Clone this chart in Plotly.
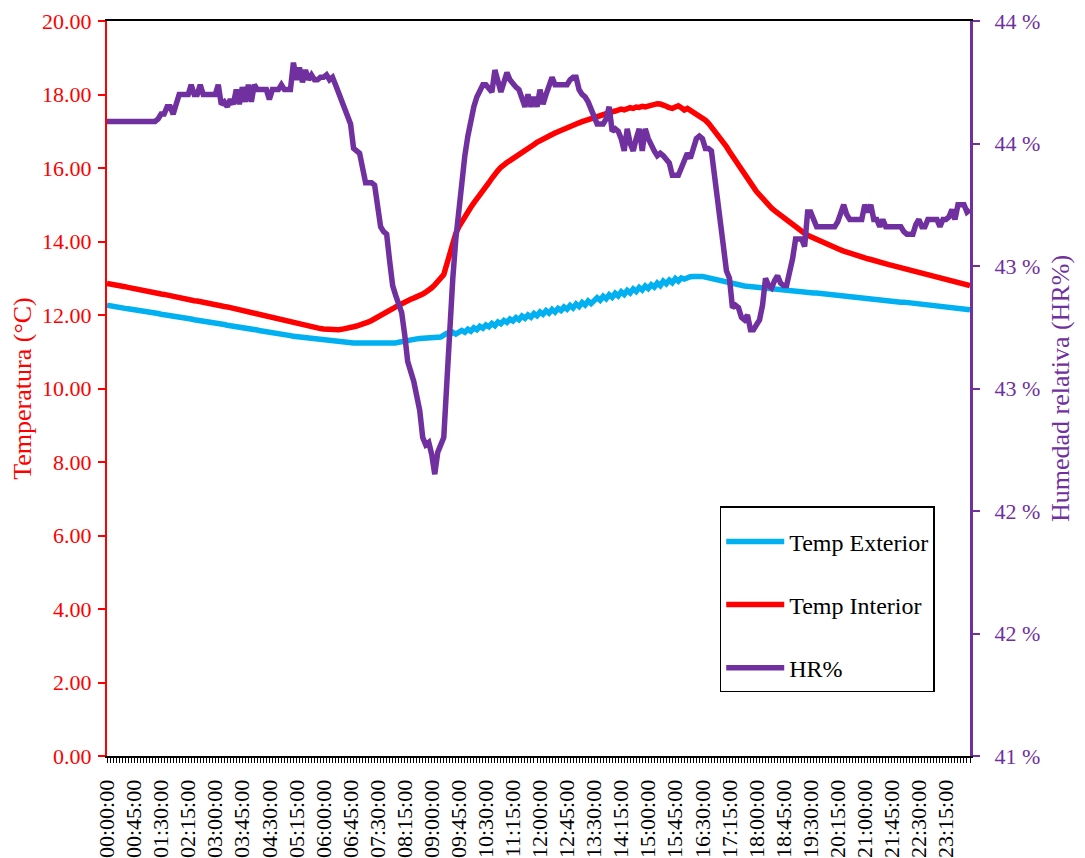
import plotly.graph_objects as go

# horas cada 5 minutos
horas = ["%02d:%02d:00" % (m // 60, m % 60) for m in range(0, 24 * 60, 5)]

temp_exterior = [
    12.27, 12.25, 12.24, 12.22, 12.21, 12.20, 12.18, 12.17, 12.16, 12.14, 12.13, 12.12,
    12.10, 12.09, 12.08, 12.06, 12.05, 12.04, 12.02, 12.01, 12.00, 11.98, 11.97, 11.95,
    11.94, 11.93, 11.91, 11.90, 11.89, 11.87, 11.86, 11.85, 11.83, 11.82, 11.80, 11.79,
    11.78, 11.76, 11.75, 11.74, 11.72, 11.71, 11.70, 11.68, 11.67, 11.66, 11.64, 11.63,
    11.62, 11.60, 11.59, 11.57, 11.56, 11.55, 11.53, 11.52, 11.50, 11.49, 11.48, 11.46,
    11.45, 11.44, 11.42, 11.41, 11.40, 11.38, 11.37, 11.36, 11.35, 11.34, 11.33, 11.32,
    11.31, 11.30, 11.29, 11.28, 11.27, 11.27, 11.26, 11.26, 11.25, 11.25, 11.24, 11.24,
    11.24, 11.23, 11.23, 11.23, 11.22, 11.22, 11.22, 11.22, 11.22, 11.23, 11.22, 11.23,
    11.24, 11.26, 11.28, 11.29, 11.31, 11.32, 11.33, 11.35, 11.36, 11.37, 11.37, 11.38,
    11.39, 11.40, 11.41, 11.40, 11.45, 11.50, 11.46, 11.53, 11.48, 11.55, 11.58, 11.53,
    11.61, 11.56, 11.65, 11.60, 11.69, 11.64, 11.73, 11.68, 11.77, 11.71, 11.81, 11.76,
    11.85, 11.80, 11.89, 11.84, 11.93, 11.87, 11.97, 11.91, 12.00, 11.94, 12.04, 11.98,
    12.08, 12.02, 12.12, 12.05, 12.15, 12.08, 12.18, 12.12, 12.22, 12.16, 12.26, 12.19,
    12.30, 12.23, 12.34, 12.27, 12.38, 12.31, 12.42, 12.47, 12.40, 12.51, 12.44, 12.55,
    12.48, 12.59, 12.52, 12.63, 12.56, 12.67, 12.60, 12.71, 12.64, 12.75, 12.68, 12.79,
    12.72, 12.82, 12.76, 12.87, 12.80, 12.92, 12.85, 12.95, 12.88, 12.99, 12.92, 13.01,
    12.98, 13.03, 13.04, 13.05, 13.06, 13.06, 13.05, 13.03, 13.01, 12.99, 12.97, 12.94,
    12.92, 12.90, 12.88, 12.86, 12.84, 12.83, 12.81, 12.80, 12.79, 12.78, 12.77, 12.76,
    12.75, 12.74, 12.73, 12.72, 12.72, 12.71, 12.70, 12.69, 12.68, 12.68, 12.67, 12.66,
    12.65, 12.65, 12.64, 12.63, 12.62, 12.62, 12.61, 12.60, 12.60, 12.59, 12.58, 12.57,
    12.56, 12.56, 12.55, 12.54, 12.53, 12.51, 12.50, 12.49, 12.48, 12.47, 12.46, 12.45,
    12.45, 12.44, 12.43, 12.42, 12.41, 12.40, 12.39, 12.38, 12.38, 12.37, 12.36, 12.35,
    12.35, 12.35, 12.34, 12.34, 12.33, 12.33, 12.32, 12.31, 12.30, 12.29, 12.28, 12.27,
    12.26, 12.25, 12.24, 12.23, 12.22, 12.21, 12.20, 12.19, 12.18, 12.17, 12.16, 12.14,
]

temp_interior = [
    12.86, 12.85, 12.83, 12.81, 12.80, 12.78, 12.77, 12.75, 12.73, 12.72, 12.70, 12.69,
    12.67, 12.66, 12.64, 12.62, 12.60, 12.59, 12.57, 12.56, 12.54, 12.52, 12.51, 12.49,
    12.47, 12.46, 12.44, 12.43, 12.41, 12.39, 12.38, 12.36, 12.35, 12.33, 12.31, 12.30,
    12.28, 12.27, 12.25, 12.23, 12.22, 12.20, 12.18, 12.16, 12.14, 12.12, 12.10, 12.08,
    12.06, 12.04, 12.02, 12.00, 11.98, 11.96, 11.94, 11.92, 11.90, 11.88, 11.86, 11.84,
    11.82, 11.80, 11.78, 11.76, 11.74, 11.72, 11.70, 11.69, 11.67, 11.66, 11.64, 11.63,
    11.62, 11.61, 11.60, 11.59, 11.59, 11.60, 11.61, 11.62, 11.64, 11.66, 11.68, 11.70,
    11.72, 11.75, 11.77, 11.81, 11.85, 11.89, 11.93, 11.98, 12.02, 12.07, 12.12, 12.17,
    12.22, 12.27, 12.31, 12.35, 12.39, 12.43, 12.46, 12.49, 12.53, 12.57, 12.62, 12.67,
    12.74, 12.82, 12.90, 12.98, 13.10, 13.38, 13.68, 13.97, 14.22, 14.40, 14.55, 14.68,
    14.80, 14.93, 15.05, 15.15, 15.28, 15.40, 15.50, 15.60, 15.72, 15.85, 15.93, 16.02,
    16.10, 16.15, 16.20, 16.25, 16.30, 16.36, 16.42, 16.48, 16.53, 16.58, 16.64, 16.70,
    16.75, 16.79, 16.83, 16.87, 16.91, 16.95, 16.99, 17.02, 17.05, 17.09, 17.12, 17.16,
    17.19, 17.23, 17.26, 17.29, 17.32, 17.35, 17.38, 17.42, 17.44, 17.46, 17.48, 17.50,
    17.53, 17.55, 17.58, 17.60, 17.58, 17.62, 17.64, 17.62, 17.66, 17.65, 17.68, 17.66,
    17.69, 17.71, 17.73, 17.75, 17.74, 17.72, 17.68, 17.64, 17.62, 17.66, 17.69, 17.64,
    17.58, 17.62, 17.57, 17.52, 17.48, 17.42, 17.36, 17.30, 17.22, 17.12, 17.02, 16.92,
    16.81, 16.70, 16.58, 16.45, 16.32, 16.20, 16.08, 15.96, 15.84, 15.72, 15.60, 15.48,
    15.36, 15.26, 15.16, 15.07, 14.99, 14.91, 14.84, 14.77, 14.70, 14.64, 14.58, 14.53,
    14.47, 14.40, 14.34, 14.28, 14.22, 14.17, 14.13, 14.09, 14.05, 14.01, 13.97, 13.93,
    13.90, 13.87, 13.84, 13.80, 13.77, 13.74, 13.71, 13.68, 13.66, 13.63, 13.61, 13.58,
    13.56, 13.53, 13.51, 13.48, 13.46, 13.44, 13.41, 13.39, 13.37, 13.35, 13.33, 13.31,
    13.28, 13.26, 13.24, 13.21, 13.19, 13.17, 13.15, 13.13, 13.11, 13.09, 13.07, 13.05,
    13.03, 13.01, 12.99, 12.96, 12.94, 12.92, 12.90, 12.88, 12.86, 12.84, 12.82, 12.80,
]

hr = [
    43.59, 43.59, 43.59, 43.59, 43.59, 43.59, 43.59, 43.59, 43.59, 43.59, 43.59, 43.59,
    43.59, 43.59, 43.59, 43.59, 43.59, 43.60, 43.62, 43.62, 43.65, 43.65, 43.62, 43.66,
    43.70, 43.70, 43.70, 43.70, 43.74, 43.70, 43.70, 43.74, 43.70, 43.70, 43.70, 43.70,
    43.70, 43.74, 43.66, 43.67, 43.65, 43.68, 43.66, 43.72, 43.66, 43.73, 43.67, 43.74,
    43.67, 43.74, 43.72, 43.72, 43.72, 43.72, 43.68, 43.72, 43.72, 43.72, 43.74, 43.72,
    43.72, 43.72, 43.83, 43.76, 43.81, 43.75, 43.80, 43.76, 43.78, 43.76, 43.76, 43.77,
    43.77, 43.78, 43.76, 43.77, 43.74, 43.71, 43.67, 43.64, 43.61, 43.58, 43.48, 43.47,
    43.46, 43.40, 43.34, 43.34, 43.34, 43.33, 43.26, 43.16, 43.14, 43.13, 43.02, 42.92,
    42.88, 42.84, 42.81, 42.72, 42.61, 42.57, 42.53, 42.47, 42.41, 42.30, 42.27, 42.28,
    42.23, 42.15, 42.24, 42.27, 42.30, 42.52, 42.78, 42.95, 43.11, 43.24, 43.35, 43.45,
    43.53, 43.60, 43.65, 43.69, 43.72, 43.74, 43.74, 43.72, 43.71, 43.80, 43.75, 43.71,
    43.75, 43.79, 43.76, 43.74, 43.73, 43.72, 43.68, 43.65, 43.70, 43.65, 43.69, 43.65,
    43.72, 43.66, 43.70, 43.74, 43.77, 43.74, 43.74, 43.74, 43.74, 43.74, 43.76, 43.77,
    43.77, 43.72, 43.70, 43.69, 43.67, 43.64, 43.61, 43.58, 43.58, 43.58, 43.60, 43.65,
    43.55, 43.56, 43.55, 43.52, 43.47, 43.56, 43.50, 43.47, 43.52, 43.56, 43.47, 43.56,
    43.52, 43.49, 43.47, 43.45, 43.46, 43.45, 43.43, 43.42, 43.37, 43.37, 43.37, 43.40,
    43.43, 43.46, 43.44, 43.49, 43.52, 43.53, 43.52, 43.48, 43.48, 43.47, 43.36, 43.25,
    43.17, 43.08, 42.98, 42.95, 42.83, 42.84, 42.83, 42.79, 42.78, 42.80, 42.74, 42.74,
    42.76, 42.78, 42.84, 42.95, 42.92, 42.91, 42.94, 42.96, 42.93, 42.92, 42.92, 42.97,
    43.03, 43.11, 43.11, 43.11, 43.08, 43.22, 43.22, 43.19, 43.16, 43.16, 43.16, 43.16,
    43.16, 43.16, 43.16, 43.18, 43.21, 43.25, 43.21, 43.19, 43.19, 43.19, 43.19, 43.19,
    43.25, 43.22, 43.25, 43.19, 43.19, 43.16, 43.19, 43.16, 43.16, 43.16, 43.16, 43.16,
    43.16, 43.14, 43.13, 43.13, 43.13, 43.17, 43.19, 43.16, 43.16, 43.19, 43.19, 43.19,
    43.19, 43.16, 43.19, 43.19, 43.20, 43.23, 43.19, 43.25, 43.25, 43.25, 43.22, 43.23,
]

# eje derecho: Excel redondea las etiquetas a 0 decimales
hr_ticks = [41, 41.5, 42, 42.5, 43, 43.5, 44]
hr_ticktext = ["41 %", "42 %", "42 %", "43 %", "43 %", "44 %", "44 %"]

x_ticktext = [h if i % 9 == 0 else "" for i, h in enumerate(horas)]

fuente = "Liberation Serif, Times New Roman, serif"
rojo = "#FF0000"
azul = "#00B0F0"
morado = "#7030A0"

fig = go.Figure()

fig.add_trace(go.Scatter(x=horas, y=temp_exterior, mode="lines", name="Temp Exterior",
                         legendgroup="a", line=dict(color=azul, width=5.5)))
fig.add_trace(go.Scatter(x=horas, y=temp_interior, mode="lines", name="Temp Interior",
                         legendgroup="b", line=dict(color=rojo, width=5.5)))
fig.add_trace(go.Scatter(x=horas, y=hr, mode="lines", name="HR%", yaxis="y2",
                         legendgroup="c", line=dict(color=morado, width=5.5)))

# la página tiene 8 px de margen, por eso 1077x850
fig.update_layout(
    width=1077,
    height=850,
    paper_bgcolor="white",
    plot_bgcolor="white",
    font=dict(family=fuente, size=21, color="black"),
    margin=dict(l=99, r=115, t=13, b=102, autoexpand=False),
    showlegend=True,
    legend=dict(
        x=0.71, y=0.34, xanchor="left", yanchor="top",
        bgcolor="white", bordercolor="black", borderwidth=1.5,
        font=dict(family=fuente, size=24, color="black"),
        title=dict(text=" ", font=dict(size=9)),
        tracegroupgap=29,
        itemwidth=58,
    ),
    xaxis=dict(
        type="category",
        range=[0, len(horas) - 1],
        tickmode="array",
        tickvals=horas,
        ticktext=x_ticktext,
        tickangle=-90,
        ticks="outside",
        ticklen=5,
        tickcolor="black",
        showline=True,
        linecolor="black",
        linewidth=2,
        mirror=True,
        showgrid=False,
        ticklabelstandoff=8,
        tickfont=dict(family=fuente, size=22, color="black"),
    ),
    yaxis=dict(
        title=dict(text="Temperatura (°C)", font=dict(family=fuente, size=26, color=rojo), standoff=8),
        range=[0, 20],
        dtick=2,
        tickformat=".2f",
        ticks="outside",
        ticklen=7,
        tickcolor=rojo,
        tickwidth=2,
        showline=True,
        linecolor=rojo,
        linewidth=2,
        showgrid=False,
        zeroline=False,
        ticklabelstandoff=2,
        ticklabeloverflow="allow",
        tickfont=dict(family=fuente, size=22, color=rojo),
    ),
    yaxis2=dict(
        title=dict(text="Humedad relativa (HR%)", font=dict(family=fuente, size=26, color=morado), standoff=12),
        overlaying="y",
        side="right",
        range=[41, 44],
        tickmode="array",
        tickvals=hr_ticks,
        ticktext=hr_ticktext,
        ticks="outside",
        ticklen=7,
        tickcolor=morado,
        tickwidth=2,
        showline=True,
        linecolor=morado,
        linewidth=3,
        showgrid=False,
        zeroline=False,
        ticklabelstandoff=10,
        ticklabeloverflow="allow",
        tickfont=dict(family=fuente, size=22, color=morado),
    ),
)

fig.write_html("out.html")
